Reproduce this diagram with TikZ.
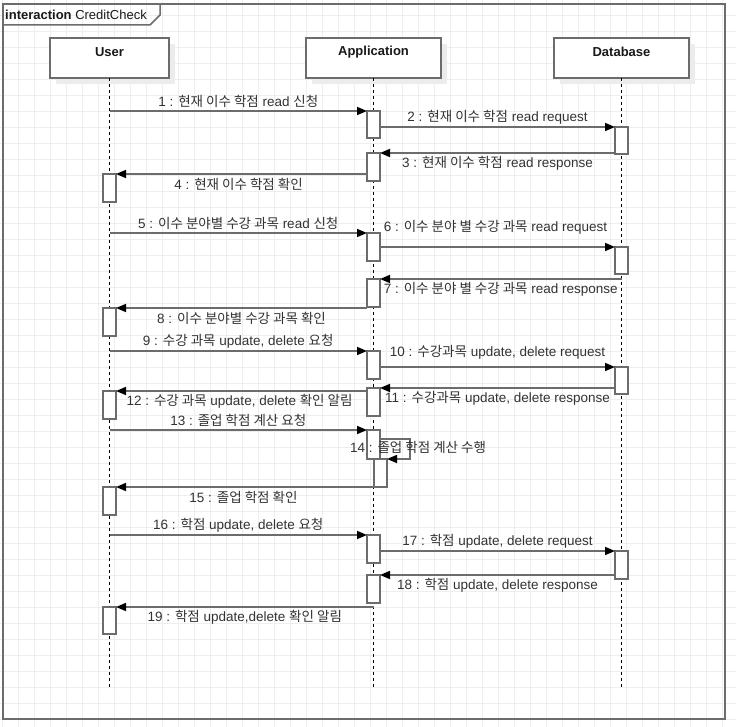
\documentclass[tikz,border=0pt]{standalone}
\usepackage{fontspec}
\setmainfont{Liberation Sans}
\newfontfamily\kr{Noto Sans CJK KR}
\usetikzlibrary{arrows.meta,shadows}
\definecolor{gridc}{RGB}{238,238,238}
\definecolor{linec}{RGB}{108,108,108}
\definecolor{txtc}{RGB}{51,51,51}
\definecolor{shadowc}{RGB}{236,236,236}

% activation bar: name, centre x, top y, bottom y
\newcommand\actbox[4]{\node[act, minimum height=#4-#3] (#1) at (#2,#3) {};}

\begin{document}
\begin{tikzpicture}[x=1pt,y=-1pt,
  every node/.style={font=\fontsize{13.5pt}{16pt}\selectfont, text=txtc},
  headbox/.style={draw=linec, line width=2pt, fill=white, minimum width=#1,
    minimum height=40pt, inner sep=0pt, outer sep=0pt,
    drop shadow={shadow xshift=6pt, shadow yshift=-6pt, fill=shadowc, opacity=1}},
  headtitle/.style={inner sep=0pt, text=black!90, font=\fontsize{13pt}{15pt}\selectfont\bfseries},
  act/.style={draw=linec, line width=1.5pt, fill=white, minimum width=13pt,
    inner sep=0pt, outer sep=0pt, anchor=north},
  life/.style={black, line width=0.9pt, dash pattern=on 3pt off 3pt},
  msg/.style={draw=linec, line width=1.5pt,
    -{Triangle[length=10pt,width=8pt,color=black]}},
  lbl/.style={inner sep=0pt}
]
\useasboundingbox (0,0) rectangle (736,727);
\fill[white] (0,0) rectangle (736,727);

% background grid
\foreach \i in {0,...,45}
  \draw[gridc, line width=0.9pt] (2.3+16*\i,0) -- (2.3+16*\i,727);
\foreach \j in {0,...,44}
  \draw[gridc, line width=0.9pt] (0,15.3+16*\j) -- (736,15.3+16*\j);

% interaction frame and its tab
\draw[linec, line width=2pt] (3,4) rectangle (725,719);
\draw[linec, line width=1.5pt] (160,4) -- (160,15) -- (150,25) -- (3,25);
\node[anchor=west, inner sep=0pt, text=black!90, font=\fontsize{13pt}{15pt}\selectfont] (title) at (5,15)
  {\textbf{interaction} CreditCheck};

% lifeline heads
\node[headbox=119pt] (U) at (109.5,58) {};
\node[headbox=135pt] (A) at (373.5,58) {};
\node[headbox=135pt] (D) at (621.5,58) {};
\node[headtitle] (Ut) at (109.5,52) {User};
\node[headtitle] (At) at (373.5,52) {Application};
\node[headtitle] (Dt) at (621.5,52) {Database};

% lifelines
\coordinate (ue) at (109.5,687);
\coordinate (ae) at (373.5,687);
\coordinate (de) at (621.5,687);
\draw[life] (U.south) -- (ue);
\draw[life] (A.south) -- (ae);
\draw[life] (D.south) -- (de);

% activation bars
\actbox{A1}{373.5}{111}{138}
\actbox{A2}{373.5}{153}{181}
\actbox{A3}{373.5}{233}{261}
\actbox{A4}{373.5}{279}{307}
\actbox{A5}{373.5}{351}{379}
\actbox{A6}{373.5}{388}{416}
\actbox{A7}{373.5}{430}{459}
\actbox{A7b}{380.5}{459}{487}
\actbox{A8}{373.5}{535}{563}
\actbox{A9}{373.5}{575}{603}
\actbox{D1}{621.5}{127}{154}
\actbox{D2}{621.5}{247}{274}
\actbox{D3}{621.5}{367}{394}
\actbox{D4}{621.5}{551}{579}
\actbox{U1}{109.5}{174}{202}
\actbox{U2}{109.5}{308}{336}
\actbox{U3}{109.5}{391}{419}
\actbox{U4}{109.5}{487}{515}
\actbox{U5}{109.5}{607}{634}

% messages
\draw[msg] (U.south |- A1.north) -- (A1.north west)
  node[lbl, midway, yshift=10pt] (m1) {1 : {\kr 현재 이수 학점} read {\kr 신청}};
\draw[msg] (A1.east |- D1.north) -- (D1.north west)
  node[lbl, midway, yshift=10pt] (m2) {2 : {\kr 현재 이수 학점} read request};
\draw[msg] (D1.west |- A2.north) -- (A2.north east)
  node[lbl, midway, yshift=-10pt] (m3) {3 : {\kr 현재 이수 학점} read response};
\draw[msg] (A2.west |- U1.north) -- (U1.north east)
  node[lbl, midway, yshift=-10pt, xshift=-3pt] (m4) {4 : {\kr 현재 이수 학점 확인}};

\draw[msg] (U.south |- A3.north) -- (A3.north west)
  node[lbl, midway, yshift=10pt] (m5) {5 : {\kr 이수 분야별 수강 과목} read {\kr 신청}};
\draw[msg] (A3.east |- D2.north) -- (D2.north west)
  node[lbl, midway, yshift=20pt, xshift=-2pt] (m6) {6 : {\kr 이수 분야 별 수강 과목} read request};
\draw[msg] (D.south |- A4.north) -- (A4.north east)
  node[lbl, midway, yshift=-10pt] (m7) {7 : {\kr 이수 분야 별 수강 과목} read response};
\draw[msg] (A4.west |- U2.north) -- (U2.north east)
  node[lbl, midway, yshift=-10pt] (m8) {8 : {\kr 이수 분야별 수강 과목 확인}};

\draw[msg] (U.south |- A5.north) -- (A5.north west)
  node[lbl, midway, yshift=10pt] (m9) {9 : {\kr 수강 과목} update, delete {\kr 요청}};
\draw[msg] (A5.east |- D3.north) -- (D3.north west)
  node[lbl, midway, yshift=15pt] (m10) {10 : {\kr 수강과목} update, delete request};
\draw[msg] (D3.west |- A6.north) -- (A6.north east)
  node[lbl, midway, yshift=-10pt] (m11) {11 : {\kr 수강과목} update, delete response};
\draw[msg] (A6.west |- U3.north) -- (U3.north east)
  node[lbl, midway, yshift=-10pt, xshift=-2pt] (m12) {12 : {\kr 수강 과목} update, delete {\kr 확인 알림}};

\draw[msg] (U.south |- A7.north) -- (A7.north west)
  node[lbl, midway, yshift=10pt] (m13) {13 : {\kr 졸업 학점 계산 요청}};
\draw[msg] ([yshift=-9pt]A7.north east) -| ([xshift=23pt]A7b.north east) -- (A7b.north east);
\draw[msg] (A7b.south east) -- (U4.north east)
  node[lbl, midway, yshift=-10pt, xshift=-8pt] (m15) {15 : {\kr 졸업 학점 확인}};

\draw[msg] (U.south |- A8.north) -- (A8.north west)
  node[lbl, midway, yshift=10pt] (m16) {16 : {\kr 학점} update, delete {\kr 요청}};
\draw[msg] (A8.east |- D4.north) -- (D4.north west)
  node[lbl, midway, yshift=10pt] (m17) {17 : {\kr 학점} update, delete request};
\draw[msg] (D4.west |- A9.north) -- (A9.north east)
  node[lbl, midway, yshift=-10pt] (m18) {18 : {\kr 학점} update, delete response};
\draw[msg] (A.south |- U5.north) -- (U5.north east)
  node[lbl, midway, yshift=-10pt] (m19) {19 : {\kr 학점} update,delete {\kr 확인 알림}};

% self-call label, set over the bars
\node[lbl] (m14) at (418,447) {14 : {\kr 졸업 학점 계산 수행}};
\end{tikzpicture}
\end{document}
